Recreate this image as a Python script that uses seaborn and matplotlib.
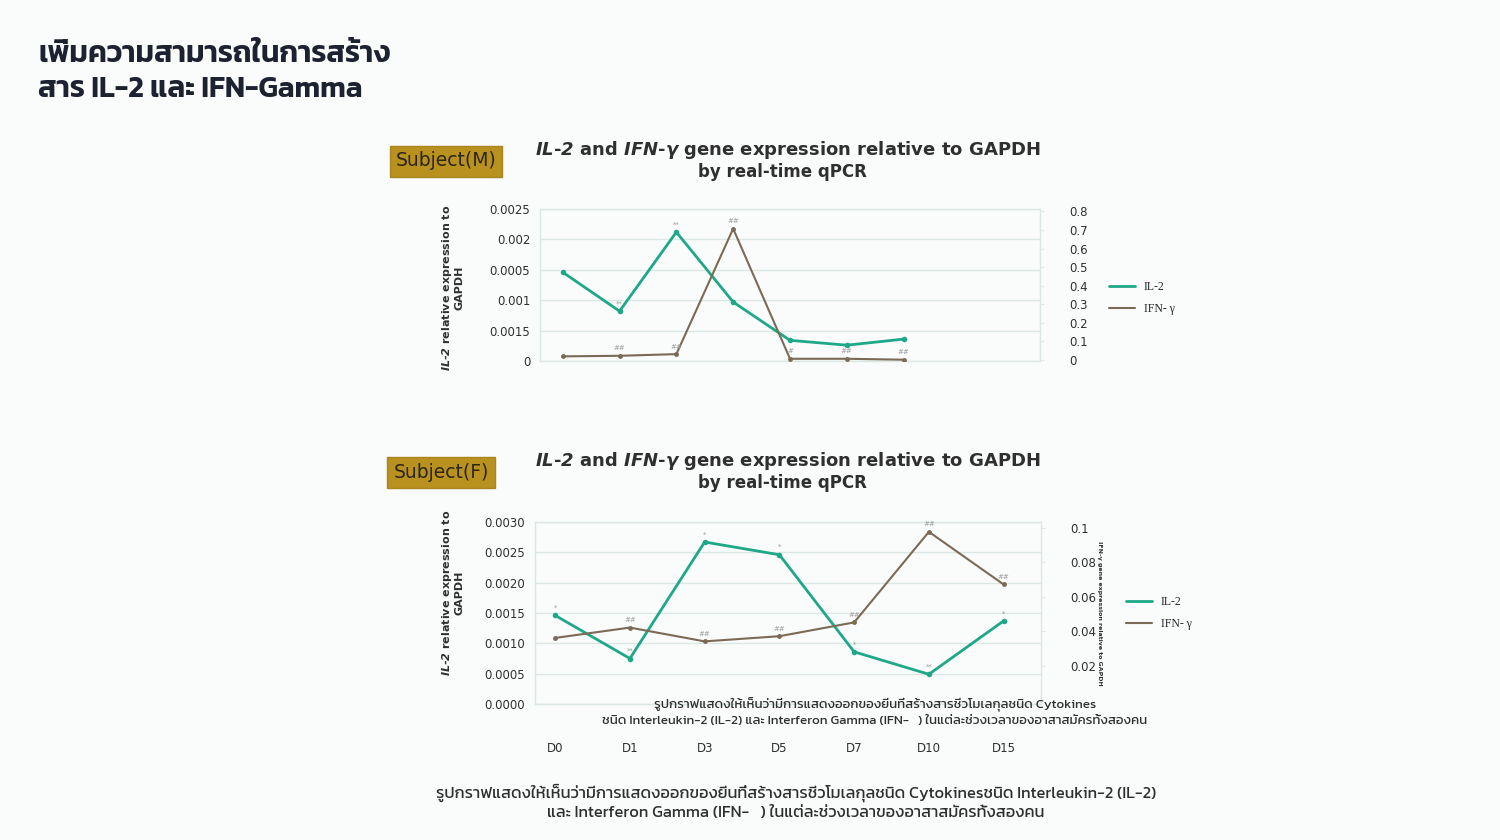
import numpy as np
import pandas as pd
import matplotlib
matplotlib.use("Agg")
import matplotlib.pyplot as plt
import seaborn as sns
from matplotlib import font_manager
from matplotlib.lines import Line2D

# data
days = ["D0", "D1", "D3", "D5", "D7", "D10", "D15"]

m_il2 = [0.00146, 0.00082, 0.00212, 0.00097, 0.00034, 0.00026, 0.00036]
m_ifn = [0.020, 0.023, 0.032, 0.707, 0.007, 0.007, 0.002]
m_il2_marks = ["", "**", "**", "", "", "", ""]
m_ifn_marks = ["", "##", "##", "##", "#", "##", "##"]

f_il2 = [0.00146, 0.00075, 0.00267, 0.00246, 0.00086, 0.00049, 0.00137]
f_ifn = [0.036, 0.042, 0.034, 0.037, 0.045, 0.0975, 0.067]
f_il2_marks = ["*", "**", "*", "*", "*", "**", "*"]
f_ifn_marks = ["", "##", "##", "##", "##", "##", "##"]

# top chart left axis labels are printed out of order in the source
m_left_ticks = [0, 0.0005, 0.0010, 0.0015, 0.0020, 0.0025]
m_left_labels = ["0", "0.0015", "0.001", "0.0005", "0.002", "0.0025"]
m_right_ticks = [0, 0.1, 0.2, 0.3, 0.4, 0.5, 0.6, 0.7, 0.8]
m_right_labels = ["0", "0.1", "0.2", "0.3", "0.4", "0.5", "0.6", "0.7", "0.8"]

f_left_ticks = [0, 0.0005, 0.0010, 0.0015, 0.0020, 0.0025, 0.0030]
f_left_labels = ["0.0000", "0.0005", "0.0010", "0.0015", "0.0020", "0.0025", "0.0030"]
f_right_ticks = [0.02, 0.04, 0.06, 0.08, 0.1]
f_right_labels = ["0.02", "0.04", "0.06", "0.08", "0.1"]

page_title = "เพิ่มความสามารถในการสร้าง\nสาร IL-2 และ IFN-Gamma"
chart_title = r"$\mathbfit{IL}$-$\mathbfit{2}$ and $\mathbfit{IFN}$-$\mathbfit{\gamma}$ gene expression relative to GAPDH"
chart_sub = "by real-time qPCR"
caption_in = ["รูปกราฟแสดงให้เห็นว่ามีการแสดงออกของยีนที่สร้างสารชีวโมเลกุลชนิด Cytokines",
              "ชนิด Interleukin-2 (IL-2) และ Interferon Gamma (IFN-   ) ในแต่ละช่วงเวลาของอาสาสมัครทั้งสองคน"]
caption_out = ["รูปกราฟแสดงให้เห็นว่ามีการแสดงออกของยีนที่สร้างสารชีวโมเลกุลชนิด Cytokinesชนิด Interleukin-2 (IL-2)",
               "และ Interferon Gamma (IFN-   ) ในแต่ละช่วงเวลาของอาสาสมัครทั้งสองคน"]

sns.set_style("white")
installed = {f.name for f in font_manager.fontManager.ttflist}
thai = next((n for n in ["Kanit", "Prompt", "Noto Sans Thai", "IBM Plex Sans Thai", "Anuphan"]
             if n in installed), "DejaVu Sans")
plt.rcParams["font.family"] = ["DejaVu Sans", thai]
plt.rcParams["mathtext.fontset"] = "dejavusans"
THAI = [thai, "DejaVu Sans"]

TEAL = "#1fa888"
BROWN = "#7b6a55"
GRID = "#dbe7e2"
TXT = "#2f2f2f"

fig = plt.figure(figsize=(15, 8.4), dpi=100)
fig.patch.set_facecolor("#fafbfb")


def fx(x):
    return x / 1500


def fy(y):
    return 1 - y / 840


def panel(rect, il2, ifn, il2_marks, ifn_marks, lt, ll, rt, rl, lylim, rylim, xlim, show_x):
    df = pd.DataFrame({"day": days, "IL-2": il2, "IFN": ifn})
    ax = fig.add_axes(rect)
    ax.set_facecolor("none")
    sns.lineplot(data=df, x="day", y="IL-2", ax=ax, color=TEAL, lw=2,
                 marker="o", markersize=4, markeredgewidth=0, sort=False, zorder=3)
    ax.set_ylim(*lylim)
    ax.set_xlim(*xlim)
    ax.set_yticks(lt)
    ax.set_yticklabels(ll)
    ax.grid(axis="y", color=GRID, lw=1)
    for s in ax.spines.values():
        s.set_color(GRID)
        s.set_linewidth(1)
    ax.set_xlabel("")
    ax.set_ylabel("")
    ax.tick_params(axis="y", length=0, pad=7, labelsize=8.5, labelcolor=TXT)
    if show_x:
        ax.tick_params(axis="x", length=0, pad=27, labelsize=8.5, labelcolor=TXT)
    else:
        ax.set_xticklabels([])
        ax.tick_params(axis="x", length=0)

    ax2 = ax.twinx()
    sns.lineplot(data=df, x="day", y="IFN", ax=ax2, color=BROWN, lw=1.5,
                 marker="o", markersize=3.5, markeredgewidth=0, sort=False, zorder=2)
    ax2.set_ylim(*rylim)
    ax2.set_yticks(rt)
    ax2.set_yticklabels(rl)
    ax2.set_ylabel("")
    for s in ax2.spines.values():
        s.set_visible(False)
    ax2.tick_params(axis="y", length=3, color="#e3e8e6", pad=18, labelsize=8.5, labelcolor=TXT)

    for i, (a, b) in enumerate(zip(il2_marks, ifn_marks)):
        if a:
            ax.annotate(a, (i, il2[i]), xytext=(0, 4), textcoords="offset points",
                        ha="center", fontsize=5, color="#9b9b9b")
        if b:
            ax2.annotate(b, (i, ifn[i]), xytext=(0, 4), textcoords="offset points",
                         ha="center", fontsize=5, color="#9b9b9b")
    return ax, ax2


ax_m, ax_m2 = panel([fx(540), fy(361), fx(500), 152 / 840], m_il2, m_ifn, m_il2_marks, m_ifn_marks,
                    m_left_ticks, m_left_labels, m_right_ticks, m_right_labels,
                    (0, 0.0025), (-0.005, 0.813), (-0.4, 8.4), False)
ax_f, ax_f2 = panel([fx(535), fy(704), fx(506), 182 / 840], f_il2, f_ifn, f_il2_marks, f_ifn_marks,
                    f_left_ticks, f_left_labels, f_right_ticks, f_right_labels,
                    (0, 0.0030), (-0.0023, 0.1032), (-0.27, 6.5), True)
ax_f2.set_ylabel("IFN-γ gene expression relative to GAPDH", rotation=270, fontsize=4.5,
                 fontweight="bold", color=TXT, labelpad=4)

# legends
handles = [Line2D([], [], color=TEAL, lw=2), Line2D([], [], color=BROWN, lw=1.5)]
for x, y in [(1098, 298), (1115, 613)]:
    fig.legend(handles, ["IL-2", "IFN- γ"], loc="center left", bbox_to_anchor=(fx(x), fy(y)),
               frameon=False, handlelength=2.2, labelspacing=0.9,
               prop={"family": ["Liberation Serif", "DejaVu Serif"], "size": 8.5})

# chart titles, subject boxes, y labels
for ytitle, ylab, label, bx, by in [(150, 288, "Subject(M)", 446, 161),
                                     (461, 593, "Subject(F)", 441, 472)]:
    fig.text(fx(788), fy(ytitle), chart_title, ha="center", va="center",
             fontsize=13, fontweight="bold", color=TXT)
    fig.text(fx(782), fy(ytitle + 22), chart_sub, ha="center", va="center",
             fontsize=12, fontweight="bold", color=TXT)
    fig.text(fx(bx), fy(by), label, ha="center", va="center", fontsize=13.5, color="#2b2618",
             bbox=dict(boxstyle="square,pad=0.32", fc="#b8911f", ec="#a8851d", lw=1))
    fig.text(fx(452), fy(ylab), r"$\mathbfit{IL}$-$\mathbfit{2}$ relative expression to" + "\nGAPDH",
             rotation=90, ha="center", va="center", fontsize=8, fontweight="bold",
             color=TXT, linespacing=1.1)

# page title
fig.text(fx(38), fy(72), page_title, ha="left", va="center", fontsize=21.5, fontweight="semibold",
         color="#1d2230", linespacing=1.42, family=THAI)

# caption overlapping lower chart
fig.text(fx(875), fy(705), caption_in[0], ha="center", va="center", fontsize=9.5,
         color=TXT, family=THAI)
fig.text(fx(875), fy(720), caption_in[1], ha="center", va="center", fontsize=9.5,
         color=TXT, family=THAI)

# caption below
fig.text(fx(796), fy(793), caption_out[0], ha="center", va="center", fontsize=11.8,
         color=TXT, family=THAI)
fig.text(fx(796), fy(813), caption_out[1], ha="center", va="center", fontsize=11.8,
         color=TXT, family=THAI)

fig.savefig("out.png", dpi=100, facecolor=fig.get_facecolor())
